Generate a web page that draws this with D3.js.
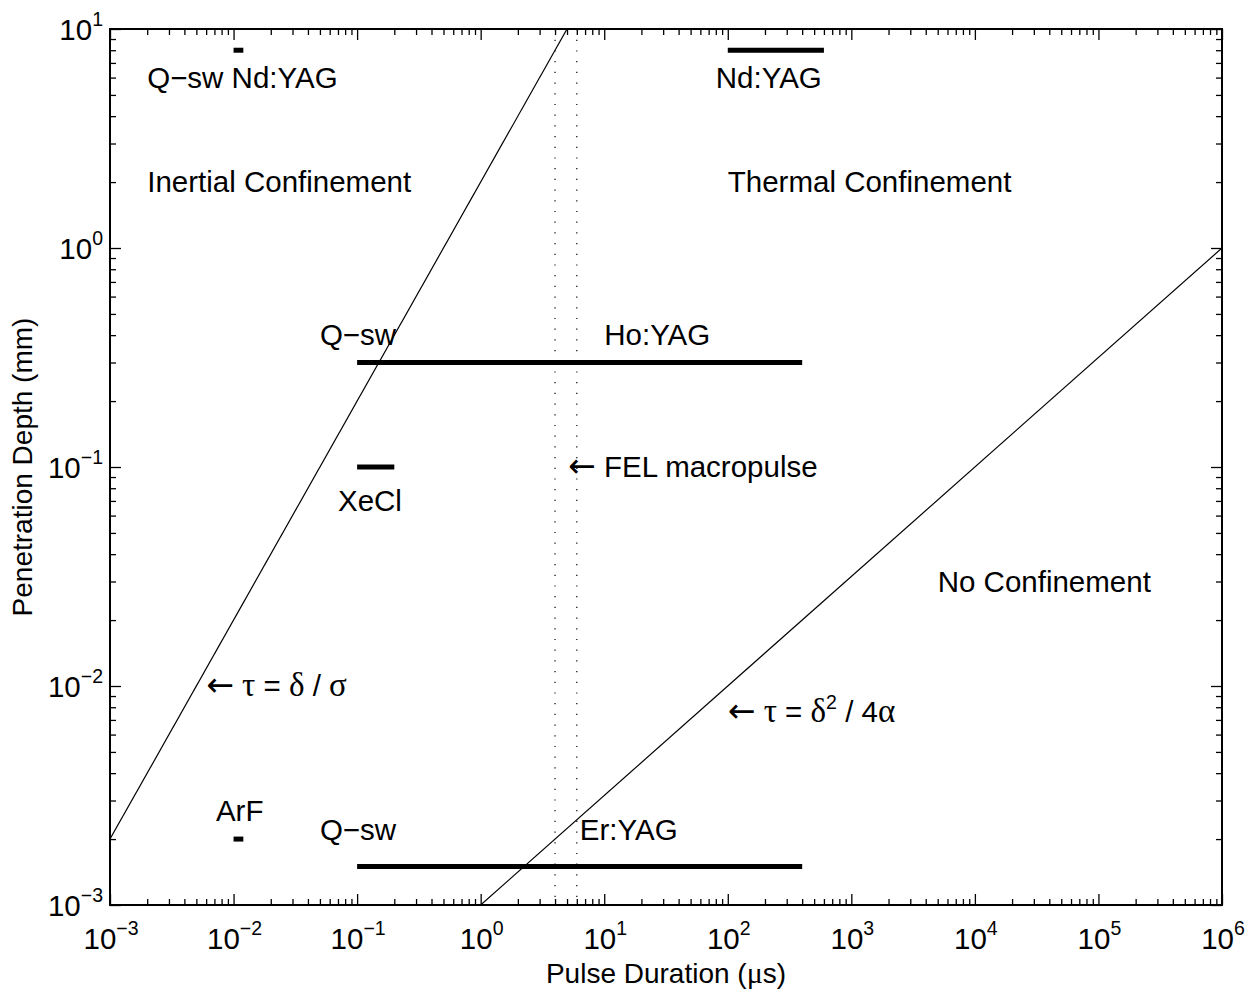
<!DOCTYPE html>
<html>
<head>
<meta charset="utf-8">
<script src="https://cdn.jsdelivr.net/npm/d3@7"></script>
<style>
  body { margin: 0; background: #fff; }
  text { font-family: "Liberation Sans", Arial, sans-serif; fill: #000; }
  .sym { font-family: "Liberation Serif", "DejaVu Serif", serif; font-size: 33px; }
  .arr { font-family: "DejaVu Sans", sans-serif; font-size: 33px; }
</style>
</head>
<body>
<script>
// tick values (decades)
const xTicks = [1e-3, 1e-2, 1e-1, 1, 10, 100, 1e3, 1e4, 1e5, 1e6];
const yTicks = [1e-3, 1e-2, 1e-1, 1, 10];
const xExp = ['\u22123', '\u22122', '\u22121', '0', '1', '2', '3', '4', '5', '6'];
const yExp = ['\u22123', '\u22122', '\u22121', '0', '1'];

// laser pulse ranges: [tau start, tau end, depth]
const bars = [
  [0.010, 0.012, 8],      // Q-sw Nd:YAG
  [100, 600, 8],          // Nd:YAG
  [0.1, 400, 0.3],        // Q-sw / Ho:YAG
  [0.1, 0.2, 0.1],        // XeCl
  [0.010, 0.012, 2e-3],   // ArF
  [0.1, 400, 1.5e-3]      // Q-sw / Er:YAG
];

// confinement boundaries, end points
const inertialLine = [[1e-3, 2e-3], [5, 10]];
const thermalLine = [[1, 1e-3], [1e6, 1]];

// FEL macropulse range
const felLines = [4, 6];

// annotations: [x, y, text parts]
const labels = [
  [2e-3, 6, [['Q\u2212sw Nd:YAG']]],
  [2e-3, 2, [['Inertial Confinement']]],
  [80, 6, [['Nd:YAG']]],
  [100, 2, [['Thermal Confinement']]],
  [0.05, 0.4, [['Q\u2212sw']]],
  [10, 0.4, [['Ho:YAG']]],
  [0.07, 0.07, [['XeCl']]],
  [5.1, 0.1, [['\u2190', 'arr'], [' FEL macropulse']]],
  [5000, 0.03, [['No Confinement']]],
  [6e-3, 0.01, [['\u2190', 'arr'], [' '], ['\u03c4', 'sym'], [' = '], ['\u03b4', 'sym'], [' / '], ['\u03c3', 'sym']]],
  [100, 7.6e-3, [['\u2190', 'arr'], [' '], ['\u03c4', 'sym'], [' = '], ['\u03b4', 'sym'], ['2', 'sup'], [' / 4', 'after'], ['\u03b1', 'sym']]],
  [7.2e-3, 2.7e-3, [['ArF']]],
  [0.05, 2.2e-3, [['Q\u2212sw']]],
  [6.35, 2.2e-3, [['Er:YAG']]]
];

const W = 1257, H = 994;
const m = { left: 110, top: 29, right: 35, bottom: 89 };
const w = W - m.left - m.right, h = H - m.top - m.bottom;
const fs = 29.5;

const svg = d3.select('body').append('svg')
    .attr('width', W)
    .attr('height', H);

const x = d3.scaleLog().domain([1e-3, 1e6]).range([0, w]);
const y = d3.scaleLog().domain([1e-3, 10]).range([h, 0]);

const g = svg.append('g').attr('transform', `translate(${m.left},${m.top})`);

g.append('clipPath').attr('id', 'clip')
  .append('rect').attr('width', w).attr('height', h);

// minor ticks (2..9 in each decade)
const minor = s => {
  const out = [];
  const [a, b] = s.domain();
  for (let e = Math.log10(a); e < Math.log10(b); e++)
    for (let k = 2; k <= 9; k++) out.push(k * Math.pow(10, e));
  return out;
};

// inward ticks on all four sides
function drawAxis(axisFn, scale, ticks, tr) {
  g.append('g').attr('transform', tr)
    .call(axisFn(scale).tickValues(minor(scale)).tickSize(-6).tickFormat(''))
    .call(s => s.select('.domain').remove())
    .selectAll('line').attr('stroke-width', 1.3);
  g.append('g').attr('transform', tr)
    .call(axisFn(scale).tickValues(ticks).tickSize(-11).tickFormat(''))
    .call(s => s.select('.domain').remove())
    .selectAll('line').attr('stroke-width', 1.3);
}
drawAxis(d3.axisBottom, x, xTicks, `translate(0,${h})`);
drawAxis(d3.axisTop, x, xTicks, 'translate(0,0)');
drawAxis(d3.axisLeft, y, yTicks, 'translate(0,0)');
drawAxis(d3.axisRight, y, yTicks, `translate(${w},0)`);

// box
g.append('rect')
    .attr('width', w).attr('height', h)
    .attr('fill', 'none').attr('stroke', '#000').attr('stroke-width', 2);

// tick labels
const xl = g.append('g').selectAll('text')
    .data(xTicks)
    .enter()
  .append('text')
    .attr('x', d => x(d) + 1)
    .attr('y', h + 44)
    .attr('text-anchor', 'middle')
    .style('font-size', fs + 'px');
xl.append('tspan').text('10');
xl.append('tspan').attr('dy', -14).style('font-size', '19.5px').text((d, i) => xExp[i]);

const yl = g.append('g').selectAll('text')
    .data(yTicks)
    .enter()
  .append('text')
    .attr('x', -7)
    .attr('y', d => y(d) + 11)
    .attr('text-anchor', 'end')
    .style('font-size', fs + 'px');
yl.append('tspan').text('10');
yl.append('tspan').attr('dy', -14).style('font-size', '19.5px').text((d, i) => yExp[i]);

// axis titles
const xt = svg.append('text')
    .attr('x', m.left + w / 2)
    .attr('y', 983)
    .attr('text-anchor', 'middle')
    .style('font-size', '28px');
xt.append('tspan').text('Pulse Duration (');
xt.append('tspan').attr('class', 'sym').style('font-size', '30px').text('\u03bc');
xt.append('tspan').text('s)');

svg.append('text')
    .attr('transform', `translate(32,${m.top + h / 2}) rotate(-90)`)
    .attr('text-anchor', 'middle')
    .style('font-size', '28px')
    .text('Penetration Depth (mm)');

const plot = g.append('g').attr('clip-path', 'url(#clip)');

// FEL dotted lines
plot.selectAll('.fel')
    .data(felLines)
    .enter()
  .append('line')
    .attr('x1', d => x(d)).attr('x2', d => x(d))
    .attr('y1', 0).attr('y2', h)
    .attr('stroke', '#000')
    .attr('stroke-width', 1.2)
    .attr('stroke-dasharray', '1.2,9.5');

// confinement boundaries
const line = d3.line().x(d => x(d[0])).y(d => y(d[1]));
plot.selectAll('.bound')
    .data([inertialLine, thermalLine])
    .enter()
  .append('path')
    .attr('d', line)
    .attr('fill', 'none')
    .attr('stroke', '#000')
    .attr('stroke-width', 1.2);

// pulse bars
plot.selectAll('.bar')
    .data(bars)
    .enter()
  .append('line')
    .attr('x1', d => x(d[0])).attr('x2', d => x(d[1]))
    .attr('y1', d => y(d[2])).attr('y2', d => y(d[2]))
    .attr('stroke', '#000')
    .attr('stroke-width', 5);

// annotations
const lt = g.append('g').selectAll('text')
    .data(labels)
    .enter()
  .append('text')
    .attr('x', d => x(d[0]))
    .attr('y', d => y(d[1]))
    .attr('dy', '0.35em')
    .style('font-size', fs + 'px');
lt.each(function (d) {
  const t = d3.select(this);
  d[2].forEach(p => {
    const s = t.append('tspan').text(p[0]);
    if (p[1] === 'sym') s.attr('class', 'sym');
    if (p[1] === 'arr') s.attr('class', 'arr');
    if (p[1] === 'sup') s.attr('dy', -13).style('font-size', '19.5px');
    if (p[1] === 'after') s.attr('dy', 13);
  });
});
</script>
</body>
</html>
